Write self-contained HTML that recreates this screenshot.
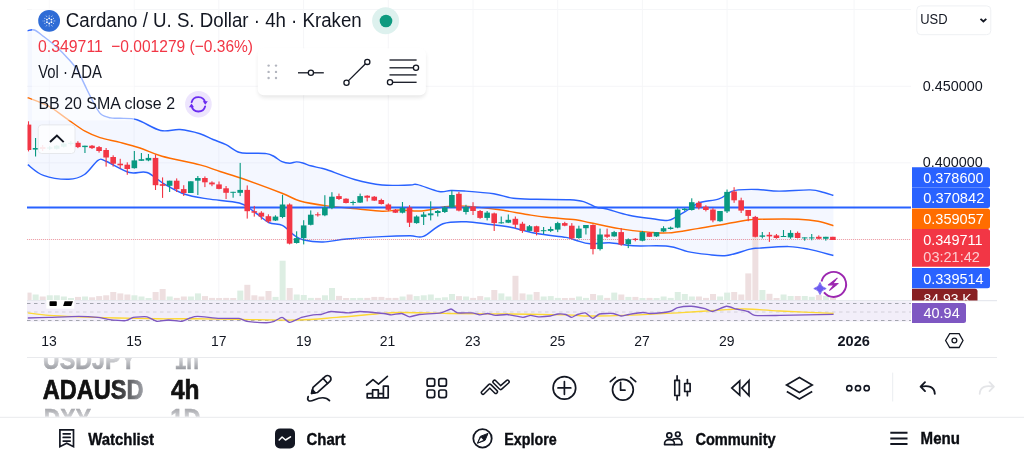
<!DOCTYPE html>
<html><head><meta charset="utf-8"><style>
html,body{margin:0;padding:0;background:#fff;width:1024px;height:461px;overflow:hidden;position:relative}
</style></head><body>
<svg width="1024" height="461" viewBox="0 0 1024 461" style="position:absolute;left:0;top:0;will-change:transform">
<defs><clipPath id="chartclip"><rect x="27.5" y="0" width="883.5" height="300.2"/></clipPath><filter id="blur" x="-10%" y="-30%" width="120%" height="160%"><feGaussianBlur stdDeviation="2"/></filter></defs>
<g stroke="#F5F6F8" stroke-width="1"><line x1="49.3" y1="0" x2="49.3" y2="300" /><line x1="134.1" y1="0" x2="134.1" y2="300" /><line x1="218.8" y1="0" x2="218.8" y2="300" /><line x1="303.6" y1="0" x2="303.6" y2="300" /><line x1="388.3" y1="0" x2="388.3" y2="300" /><line x1="473" y1="0" x2="473" y2="300" /><line x1="557.7" y1="0" x2="557.7" y2="300" /><line x1="642.4" y1="0" x2="642.4" y2="300" /><line x1="727.1" y1="0" x2="727.1" y2="300" /><line x1="854.1" y1="0" x2="854.1" y2="300" /><line x1="27" y1="9.5" x2="911" y2="9.5" /><line x1="27" y1="86.3" x2="911" y2="86.3" /><line x1="27" y1="162.8" x2="911" y2="162.8" /><line x1="27" y1="239.5" x2="911" y2="239.5" /></g>
<path d="M27.6,30.7 C28.72,30.58 31.58,29 34.3,30 C37.02,31 40.32,33.98 43.9,36.7 C47.48,39.42 51.83,42.72 55.8,46.3 C59.77,49.88 64.12,54.23 67.7,58.2 C71.28,62.17 74.12,64.93 77.3,70.1 C80.48,75.27 84.02,83.63 86.8,89.2 C89.58,94.77 91.62,99.32 94,103.5 C96.38,107.68 98.32,111.9 101.1,114.3 C103.88,116.7 107.55,117.23 110.7,117.9 C113.85,118.57 115.62,117.98 120,118.3 C124.38,118.62 130.23,117.77 137,119.8 C143.77,121.83 153.43,128.88 160.6,130.5 C167.77,132.12 173.43,128.97 180,129.5 C186.57,130.03 194.5,132.03 200,133.7 C205.5,135.37 208.67,137.67 213,139.5 C217.33,141.33 221.67,142.57 226,144.7 C230.33,146.83 234.67,150.88 239,152.3 C243.33,153.72 247.43,152.98 252,153.2 C256.57,153.42 262.7,153.05 266.4,153.6 C270.1,154.15 271.6,155.15 274.2,156.5 C276.8,157.85 279.4,160.58 282,161.7 C284.6,162.82 287.4,163.17 289.8,163.2 C292.2,163.23 294.22,161.93 296.4,161.9 C298.58,161.87 300.52,162.35 302.9,163 C305.28,163.65 307.85,164.98 310.7,165.8 C313.55,166.62 317.28,167.23 320,167.9 C322.72,168.57 321.25,167.87 327,169.8 C332.75,171.73 345.33,176.97 354.5,179.5 C363.67,182.03 372.75,184.08 382,185 C391.25,185.92 404.07,185.07 410,185 C415.93,184.93 412.77,183.52 417.6,184.6 C422.43,185.68 433.47,190.52 439,191.5 C444.53,192.48 446.55,190.58 450.8,190.5 C455.05,190.42 457.34,190.45 464.5,191 C471.66,191.55 485.62,192.58 493.75,193.8 C501.88,195.02 506.14,197.38 513.3,198.3 C520.46,199.22 527.25,199.07 536.7,199.3 C546.15,199.53 562.18,199.32 570,199.7 C577.82,200.08 579.1,200.3 583.6,201.6 C588.1,202.9 593.33,206.32 597,207.5 C600.67,208.68 600.27,207.4 605.6,208.7 C610.93,210 621.18,213.62 629,215.3 C636.82,216.98 646,217.95 652.5,218.8 C659,219.65 664.08,220.72 668,220.4 C671.92,220.08 672.72,218.63 676,216.9 C679.28,215.17 683.8,212.35 687.7,210 C691.6,207.65 694.18,204.65 699.4,202.8 C704.62,200.95 713.8,200.72 719,198.9 C724.2,197.08 727.37,193.4 730.6,191.9 C733.83,190.4 733.83,190.3 738.4,189.9 C742.97,189.5 751.23,189.3 758,189.5 C764.77,189.7 770.28,191.03 779,191.1 C787.72,191.17 802.8,189.67 810.3,189.9 C817.8,190.13 820.15,191.58 824,192.5 C827.85,193.42 831.83,194.92 833.4,195.4 L833.4,255.5 C829.23,254.43 815.83,250.58 808.4,249.1 C800.97,247.62 796.95,246.77 788.8,246.6 C780.65,246.43 765.93,247.68 759.5,248.1 C753.07,248.52 755.67,247.87 750.2,249.1 C744.73,250.33 733.87,254.62 726.7,255.5 C719.53,256.38 713.7,255.05 707.2,254.4 C700.7,253.75 694.23,252.97 687.7,251.6 C681.17,250.23 677.12,247.17 668,246.2 C658.88,245.23 642.75,246.38 633,245.8 C623.25,245.22 616.67,243.03 609.5,242.7 C602.33,242.37 595.62,244.2 590,243.8 C584.38,243.4 579.8,241.37 575.8,240.3 C571.8,239.23 572.52,238.53 566,237.4 C559.48,236.27 546.13,235.23 536.7,233.5 C527.27,231.77 517.53,228.53 509.4,227 C501.27,225.47 495.07,225.17 487.9,224.3 C480.73,223.43 473.88,221.9 466.4,221.8 C458.92,221.7 450.17,221.27 443,223.7 C435.83,226.13 428.9,234.38 423.4,236.4 C417.9,238.42 416.9,235.77 410,235.8 C403.1,235.83 392.55,236.07 382,236.6 C371.45,237.13 356.53,238.1 346.7,239 C336.87,239.9 330.16,241.83 323,242 C315.84,242.17 308.58,241.13 303.75,240 C298.92,238.87 297.57,237.63 294,235.2 C290.43,232.77 286.53,227.52 282.3,225.4 C278.07,223.28 273.48,224.93 268.6,222.5 C263.72,220.07 257.88,214.05 253,210.8 C248.12,207.55 246.88,204.98 239.3,203 C231.72,201.02 216.72,200.4 207.5,198.9 C198.28,197.4 191.17,196.45 184,194 C176.83,191.55 170.67,187.78 164.5,184.2 C158.33,180.62 152.85,174.45 147,172.5 C141.15,170.55 136.23,174.38 129.4,172.5 C122.57,170.62 111.23,163.22 106,161.2 C100.77,159.18 101.58,158.18 98,160.4 C94.42,162.62 89.37,171.35 84.5,174.5 C79.63,177.65 75.65,179.15 68.8,179.3 C61.95,179.45 50.23,177.83 43.4,175.4 C36.57,172.97 30.4,166.48 27.8,164.7 Z" fill="#2962FF" fill-opacity="0.05" />
<g clip-path="url(#chartclip)"><rect x="25.6" y="292.6" width="6" height="7.4" fill="#EEDFE0" /><rect x="32.66" y="294.5" width="6" height="5.5" fill="#DDEEE3" /><rect x="39.71" y="296.5" width="6" height="3.5" fill="#EEDFE0" /><rect x="46.77" y="295.3" width="6" height="4.7" fill="#DDEEE3" /><rect x="53.82" y="295.3" width="6" height="4.7" fill="#DDEEE3" /><rect x="60.88" y="296.5" width="6" height="3.5" fill="#DDEEE3" /><rect x="67.94" y="298" width="6" height="2" fill="#DDEEE3" /><rect x="74.99" y="296.9" width="6" height="3.1" fill="#EEDFE0" /><rect x="82.05" y="296.5" width="6" height="3.5" fill="#DDEEE3" /><rect x="89.1" y="297.3" width="6" height="2.7" fill="#EEDFE0" /><rect x="96.16" y="296.1" width="6" height="3.9" fill="#EEDFE0" /><rect x="103.22" y="295.3" width="6" height="4.7" fill="#EEDFE0" /><rect x="110.27" y="292" width="6" height="8" fill="#EEDFE0" /><rect x="117.33" y="293.4" width="6" height="6.6" fill="#EEDFE0" /><rect x="124.38" y="294.5" width="6" height="5.5" fill="#EEDFE0" /><rect x="131.44" y="295.3" width="6" height="4.7" fill="#DDEEE3" /><rect x="138.5" y="296.5" width="6" height="3.5" fill="#DDEEE3" /><rect x="145.55" y="298" width="6" height="2" fill="#DDEEE3" /><rect x="152.61" y="292" width="6" height="8" fill="#EEDFE0" /><rect x="159.66" y="289" width="6" height="11" fill="#EEDFE0" /><rect x="166.72" y="296.5" width="6" height="3.5" fill="#DDEEE3" /><rect x="173.78" y="297.9" width="6" height="2.1" fill="#EEDFE0" /><rect x="180.83" y="296.5" width="6" height="3.5" fill="#EEDFE0" /><rect x="187.89" y="296.5" width="6" height="3.5" fill="#DDEEE3" /><rect x="194.94" y="293.4" width="6" height="6.6" fill="#DDEEE3" /><rect x="202" y="296.1" width="6" height="3.9" fill="#EEDFE0" /><rect x="209.06" y="297.9" width="6" height="2.1" fill="#EEDFE0" /><rect x="216.11" y="298" width="6" height="2" fill="#EEDFE0" /><rect x="223.17" y="297.9" width="6" height="2.1" fill="#EEDFE0" /><rect x="230.22" y="298" width="6" height="2" fill="#EEDFE0" /><rect x="237.28" y="290.6" width="6" height="9.4" fill="#DDEEE3" /><rect x="244.34" y="284.8" width="6" height="15.2" fill="#EEDFE0" /><rect x="251.39" y="295.3" width="6" height="4.7" fill="#EEDFE0" /><rect x="258.45" y="296.5" width="6" height="3.5" fill="#EEDFE0" /><rect x="265.5" y="291" width="6" height="9" fill="#EEDFE0" /><rect x="272.56" y="296.9" width="6" height="3.1" fill="#DDEEE3" /><rect x="279.62" y="260.7" width="6" height="39.3" fill="#DDEEE3" /><rect x="286.67" y="288" width="6" height="12" fill="#EEDFE0" /><rect x="293.73" y="294.5" width="6" height="5.5" fill="#DDEEE3" /><rect x="300.78" y="295" width="6" height="5" fill="#DDEEE3" /><rect x="307.84" y="297.9" width="6" height="2.1" fill="#DDEEE3" /><rect x="314.9" y="297.9" width="6" height="2.1" fill="#EEDFE0" /><rect x="321.95" y="295.3" width="6" height="4.7" fill="#DDEEE3" /><rect x="329.01" y="288" width="6" height="12" fill="#DDEEE3" /><rect x="336.06" y="295.9" width="6" height="4.1" fill="#EEDFE0" /><rect x="343.12" y="298" width="6" height="2" fill="#EEDFE0" /><rect x="350.18" y="298" width="6" height="2" fill="#DDEEE3" /><rect x="357.23" y="297.9" width="6" height="2.1" fill="#DDEEE3" /><rect x="364.29" y="297.9" width="6" height="2.1" fill="#EEDFE0" /><rect x="371.34" y="296.9" width="6" height="3.1" fill="#EEDFE0" /><rect x="378.4" y="296.9" width="6" height="3.1" fill="#EEDFE0" /><rect x="385.46" y="297.9" width="6" height="2.1" fill="#EEDFE0" /><rect x="392.51" y="297.9" width="6" height="2.1" fill="#EEDFE0" /><rect x="399.57" y="296.5" width="6" height="3.5" fill="#DDEEE3" /><rect x="406.62" y="294.5" width="6" height="5.5" fill="#EEDFE0" /><rect x="413.68" y="296.1" width="6" height="3.9" fill="#DDEEE3" /><rect x="420.74" y="295.3" width="6" height="4.7" fill="#DDEEE3" /><rect x="427.79" y="294.5" width="6" height="5.5" fill="#DDEEE3" /><rect x="434.85" y="297.9" width="6" height="2.1" fill="#DDEEE3" /><rect x="441.9" y="297.3" width="6" height="2.7" fill="#DDEEE3" /><rect x="448.96" y="294" width="6" height="6" fill="#DDEEE3" /><rect x="456.02" y="296.1" width="6" height="3.9" fill="#EEDFE0" /><rect x="463.07" y="296.5" width="6" height="3.5" fill="#DDEEE3" /><rect x="470.13" y="297.9" width="6" height="2.1" fill="#EEDFE0" /><rect x="477.18" y="296.1" width="6" height="3.9" fill="#EEDFE0" /><rect x="484.24" y="297.3" width="6" height="2.7" fill="#DDEEE3" /><rect x="491.3" y="290" width="6" height="10" fill="#EEDFE0" /><rect x="498.35" y="293.4" width="6" height="6.6" fill="#DDEEE3" /><rect x="505.41" y="296.5" width="6" height="3.5" fill="#DDEEE3" /><rect x="512.46" y="275.8" width="6" height="24.2" fill="#EEDFE0" /><rect x="519.52" y="293.4" width="6" height="6.6" fill="#EEDFE0" /><rect x="526.58" y="294.5" width="6" height="5.5" fill="#DDEEE3" /><rect x="533.63" y="292" width="6" height="8" fill="#EEDFE0" /><rect x="540.69" y="296.5" width="6" height="3.5" fill="#DDEEE3" /><rect x="547.74" y="296.1" width="6" height="3.9" fill="#DDEEE3" /><rect x="554.8" y="297.9" width="6" height="2.1" fill="#DDEEE3" /><rect x="561.86" y="298" width="6" height="2" fill="#EEDFE0" /><rect x="568.91" y="297.9" width="6" height="2.1" fill="#EEDFE0" /><rect x="575.97" y="296.5" width="6" height="3.5" fill="#DDEEE3" /><rect x="583.02" y="297.9" width="6" height="2.1" fill="#DDEEE3" /><rect x="590.08" y="294" width="6" height="6" fill="#EEDFE0" /><rect x="597.14" y="295.3" width="6" height="4.7" fill="#DDEEE3" /><rect x="604.19" y="297.9" width="6" height="2.1" fill="#EEDFE0" /><rect x="611.25" y="292.6" width="6" height="7.4" fill="#DDEEE3" /><rect x="618.3" y="294.5" width="6" height="5.5" fill="#EEDFE0" /><rect x="625.36" y="296.9" width="6" height="3.1" fill="#DDEEE3" /><rect x="632.42" y="296.9" width="6" height="3.1" fill="#EEDFE0" /><rect x="639.47" y="298" width="6" height="2" fill="#DDEEE3" /><rect x="646.53" y="297.9" width="6" height="2.1" fill="#EEDFE0" /><rect x="653.58" y="298" width="6" height="2" fill="#DDEEE3" /><rect x="660.64" y="296.5" width="6" height="3.5" fill="#DDEEE3" /><rect x="667.7" y="297.9" width="6" height="2.1" fill="#DDEEE3" /><rect x="674.75" y="292" width="6" height="8" fill="#DDEEE3" /><rect x="681.81" y="294" width="6" height="6" fill="#DDEEE3" /><rect x="688.86" y="296.5" width="6" height="3.5" fill="#DDEEE3" /><rect x="695.92" y="296.5" width="6" height="3.5" fill="#EEDFE0" /><rect x="702.98" y="297.9" width="6" height="2.1" fill="#EEDFE0" /><rect x="710.03" y="294" width="6" height="6" fill="#EEDFE0" /><rect x="717.09" y="296.5" width="6" height="3.5" fill="#DDEEE3" /><rect x="724.14" y="292.6" width="6" height="7.4" fill="#DDEEE3" /><rect x="731.2" y="292" width="6" height="8" fill="#EEDFE0" /><rect x="738.26" y="294.5" width="6" height="5.5" fill="#EEDFE0" /><rect x="745.31" y="273.4" width="6" height="26.6" fill="#EEDFE0" /><rect x="752.37" y="236.8" width="6" height="63.2" fill="#EEDFE0" /><rect x="759.42" y="290" width="6" height="10" fill="#DDEEE3" /><rect x="766.48" y="293.8" width="6" height="6.2" fill="#EEDFE0" /><rect x="773.54" y="298" width="6" height="2" fill="#EEDFE0" /><rect x="780.59" y="294.5" width="6" height="5.5" fill="#DDEEE3" /><rect x="787.65" y="296" width="6" height="4" fill="#DDEEE3" /><rect x="794.7" y="296" width="6" height="4" fill="#EEDFE0" /><rect x="801.76" y="296" width="6" height="4" fill="#DDEEE3" /><rect x="808.82" y="296.8" width="6" height="3.2" fill="#DDEEE3" /><rect x="815.87" y="295" width="6" height="5" fill="#EEDFE0" /><rect x="822.93" y="296" width="6" height="4" fill="#DDEEE3" /><rect x="829.98" y="298" width="6" height="2" fill="#EEDFE0" /></g>
<path d="M27.6,30.7 C28.72,30.58 31.58,29 34.3,30 C37.02,31 40.32,33.98 43.9,36.7 C47.48,39.42 51.83,42.72 55.8,46.3 C59.77,49.88 64.12,54.23 67.7,58.2 C71.28,62.17 74.12,64.93 77.3,70.1 C80.48,75.27 84.02,83.63 86.8,89.2 C89.58,94.77 91.62,99.32 94,103.5 C96.38,107.68 98.32,111.9 101.1,114.3 C103.88,116.7 107.55,117.23 110.7,117.9 C113.85,118.57 115.62,117.98 120,118.3 C124.38,118.62 130.23,117.77 137,119.8 C143.77,121.83 153.43,128.88 160.6,130.5 C167.77,132.12 173.43,128.97 180,129.5 C186.57,130.03 194.5,132.03 200,133.7 C205.5,135.37 208.67,137.67 213,139.5 C217.33,141.33 221.67,142.57 226,144.7 C230.33,146.83 234.67,150.88 239,152.3 C243.33,153.72 247.43,152.98 252,153.2 C256.57,153.42 262.7,153.05 266.4,153.6 C270.1,154.15 271.6,155.15 274.2,156.5 C276.8,157.85 279.4,160.58 282,161.7 C284.6,162.82 287.4,163.17 289.8,163.2 C292.2,163.23 294.22,161.93 296.4,161.9 C298.58,161.87 300.52,162.35 302.9,163 C305.28,163.65 307.85,164.98 310.7,165.8 C313.55,166.62 317.28,167.23 320,167.9 C322.72,168.57 321.25,167.87 327,169.8 C332.75,171.73 345.33,176.97 354.5,179.5 C363.67,182.03 372.75,184.08 382,185 C391.25,185.92 404.07,185.07 410,185 C415.93,184.93 412.77,183.52 417.6,184.6 C422.43,185.68 433.47,190.52 439,191.5 C444.53,192.48 446.55,190.58 450.8,190.5 C455.05,190.42 457.34,190.45 464.5,191 C471.66,191.55 485.62,192.58 493.75,193.8 C501.88,195.02 506.14,197.38 513.3,198.3 C520.46,199.22 527.25,199.07 536.7,199.3 C546.15,199.53 562.18,199.32 570,199.7 C577.82,200.08 579.1,200.3 583.6,201.6 C588.1,202.9 593.33,206.32 597,207.5 C600.67,208.68 600.27,207.4 605.6,208.7 C610.93,210 621.18,213.62 629,215.3 C636.82,216.98 646,217.95 652.5,218.8 C659,219.65 664.08,220.72 668,220.4 C671.92,220.08 672.72,218.63 676,216.9 C679.28,215.17 683.8,212.35 687.7,210 C691.6,207.65 694.18,204.65 699.4,202.8 C704.62,200.95 713.8,200.72 719,198.9 C724.2,197.08 727.37,193.4 730.6,191.9 C733.83,190.4 733.83,190.3 738.4,189.9 C742.97,189.5 751.23,189.3 758,189.5 C764.77,189.7 770.28,191.03 779,191.1 C787.72,191.17 802.8,189.67 810.3,189.9 C817.8,190.13 820.15,191.58 824,192.5 C827.85,193.42 831.83,194.92 833.4,195.4" fill="none" stroke="#2962FF" stroke-width="1.45" stroke-linejoin="round"/><path d="M27.8,164.7 C30.4,166.48 36.57,172.97 43.4,175.4 C50.23,177.83 61.95,179.45 68.8,179.3 C75.65,179.15 79.63,177.65 84.5,174.5 C89.37,171.35 94.42,162.62 98,160.4 C101.58,158.18 100.77,159.18 106,161.2 C111.23,163.22 122.57,170.62 129.4,172.5 C136.23,174.38 141.15,170.55 147,172.5 C152.85,174.45 158.33,180.62 164.5,184.2 C170.67,187.78 176.83,191.55 184,194 C191.17,196.45 198.28,197.4 207.5,198.9 C216.72,200.4 231.72,201.02 239.3,203 C246.88,204.98 248.12,207.55 253,210.8 C257.88,214.05 263.72,220.07 268.6,222.5 C273.48,224.93 278.07,223.28 282.3,225.4 C286.53,227.52 290.43,232.77 294,235.2 C297.57,237.63 298.92,238.87 303.75,240 C308.58,241.13 315.84,242.17 323,242 C330.16,241.83 336.87,239.9 346.7,239 C356.53,238.1 371.45,237.13 382,236.6 C392.55,236.07 403.1,235.83 410,235.8 C416.9,235.77 417.9,238.42 423.4,236.4 C428.9,234.38 435.83,226.13 443,223.7 C450.17,221.27 458.92,221.7 466.4,221.8 C473.88,221.9 480.73,223.43 487.9,224.3 C495.07,225.17 501.27,225.47 509.4,227 C517.53,228.53 527.27,231.77 536.7,233.5 C546.13,235.23 559.48,236.27 566,237.4 C572.52,238.53 571.8,239.23 575.8,240.3 C579.8,241.37 584.38,243.4 590,243.8 C595.62,244.2 602.33,242.37 609.5,242.7 C616.67,243.03 623.25,245.22 633,245.8 C642.75,246.38 658.88,245.23 668,246.2 C677.12,247.17 681.17,250.23 687.7,251.6 C694.23,252.97 700.7,253.75 707.2,254.4 C713.7,255.05 719.53,256.38 726.7,255.5 C733.87,254.62 744.73,250.33 750.2,249.1 C755.67,247.87 753.07,248.52 759.5,248.1 C765.93,247.68 780.65,246.43 788.8,246.6 C796.95,246.77 800.97,247.62 808.4,249.1 C815.83,250.58 829.23,254.43 833.4,255.5" fill="none" stroke="#2962FF" stroke-width="1.45" stroke-linejoin="round"/><path d="M27.6,97.6 C31.1,99.03 41.92,102.57 48.6,106.2 C55.28,109.83 61.63,115.23 67.7,119.4 C73.77,123.57 79.62,128.17 85,131.2 C90.38,134.23 94.17,135.73 100,137.6 C105.83,139.47 113.33,140.67 120,142.4 C126.67,144.13 133,145.7 140,148 C147,150.3 152,153.38 162,156.2 C172,159.02 190.33,162.35 200,164.9 C209.67,167.45 212.5,169.07 220,171.5 C227.5,173.93 234.67,175.88 245,179.5 C255.33,183.12 272.83,189.62 282,193.2 C291.17,196.78 292.5,198.88 300,201 C307.5,203.12 317.58,204.6 327,205.9 C336.42,207.2 347.33,207.92 356.5,208.8 C365.67,209.68 374.75,211 382,211.2 C389.25,211.4 393.42,210.03 400,210 C406.58,209.97 414,211.55 421.5,211 C429,210.45 437.83,207.52 445,206.7 C452.17,205.88 455.72,205.63 464.5,206.1 C473.28,206.57 487.28,208.1 497.7,209.5 C508.12,210.9 518.87,213.2 527,214.5 C535.13,215.8 538.37,216.42 546.5,217.3 C554.63,218.18 568.55,218.9 575.8,219.8 C583.05,220.7 582.75,221.23 590,222.7 C597.25,224.17 609.53,227.03 619.3,228.6 C629.07,230.17 640.47,231.38 648.6,232.1 C656.73,232.82 659.97,233.48 668.1,232.9 C676.23,232.32 687.63,230.13 697.4,228.6 C707.17,227.07 717.9,225.17 726.7,223.7 C735.5,222.23 744.73,220.55 750.2,219.8 C755.67,219.05 751.43,219.3 759.5,219.2 C767.57,219.1 788.85,218.87 798.6,219.2 C808.35,219.53 812.2,220.12 818,221.2 C823.8,222.28 830.83,224.95 833.4,225.7" fill="none" stroke="#FF6D00" stroke-width="1.45" stroke-linejoin="round"/>
<line x1="27" y1="239.5" x2="911" y2="239.5" stroke="#F23645" stroke-width="1" stroke-dasharray="1,1" opacity="0.45"/>
<line x1="27" y1="207.5" x2="911" y2="207.5" stroke="#2962FF" stroke-width="2"/>
<g clip-path="url(#chartclip)"><g fill="#F23645"><rect x="27.95" y="121.3" width="1.1" height="30.1"/><rect x="25.7" y="124.6" width="5.6" height="25.4"/></g><g fill="#089981"><rect x="35.01" y="138" width="1.1" height="18.5"/><rect x="32.76" y="148" width="5.6" height="1.6"/></g><g fill="#F23645" opacity="0.4"><rect x="42.06" y="145" width="1.1" height="6"/><rect x="39.81" y="147" width="5.6" height="2"/></g><g fill="#089981" opacity="0.4"><rect x="49.12" y="146" width="1.1" height="4"/><rect x="46.87" y="147.5" width="5.6" height="1"/></g><g fill="#089981" opacity="0.4"><rect x="56.17" y="145" width="1.1" height="4.5"/><rect x="53.92" y="145.7" width="5.6" height="3"/></g><g fill="#089981" opacity="0.4"><rect x="63.23" y="143" width="1.1" height="4.5"/><rect x="60.98" y="143.6" width="5.6" height="3.1"/></g><g fill="#089981" opacity="0.4"><rect x="70.29" y="140.9" width="1.1" height="4.6"/><rect x="68.04" y="142.8" width="5.6" height="1"/></g><g fill="#F23645"><rect x="77.34" y="141.2" width="1.1" height="6.9"/><rect x="75.09" y="142.8" width="5.6" height="4.3"/></g><g fill="#089981"><rect x="84.4" y="145.7" width="1.1" height="7.3"/><rect x="82.15" y="145.7" width="5.6" height="1.4"/></g><g fill="#F23645"><rect x="91.45" y="145" width="1.1" height="4"/><rect x="89.2" y="145.7" width="5.6" height="2.4"/></g><g fill="#F23645"><rect x="98.51" y="146" width="1.1" height="6.6"/><rect x="96.26" y="147.1" width="5.6" height="3.9"/></g><g fill="#F23645"><rect x="105.57" y="148" width="1.1" height="18.6"/><rect x="103.32" y="150" width="5.6" height="7.5"/></g><g fill="#F23645"><rect x="112.62" y="155.3" width="1.1" height="11.3"/><rect x="110.37" y="157" width="5.6" height="6.7"/></g><g fill="#F23645"><rect x="119.68" y="158.8" width="1.1" height="9.8"/><rect x="117.43" y="163.7" width="5.6" height="1.6"/></g><g fill="#F23645"><rect x="126.73" y="162.3" width="1.1" height="12.5"/><rect x="124.48" y="164.7" width="5.6" height="4.3"/></g><g fill="#089981"><rect x="133.79" y="151" width="1.1" height="17.6"/><rect x="131.54" y="160.4" width="5.6" height="7.8"/></g><g fill="#089981"><rect x="140.85" y="153" width="1.1" height="7.8"/><rect x="138.6" y="159.2" width="5.6" height="1.6"/></g><g fill="#089981"><rect x="147.9" y="154" width="1.1" height="7.2"/><rect x="145.65" y="157.9" width="5.6" height="2.5"/></g><g fill="#F23645"><rect x="154.96" y="154.5" width="1.1" height="35.5"/><rect x="152.71" y="157.9" width="5.6" height="27.3"/></g><g fill="#F23645"><rect x="162.01" y="177.4" width="1.1" height="20.5"/><rect x="159.76" y="184.2" width="5.6" height="1.6"/></g><g fill="#089981"><rect x="169.07" y="180.7" width="1.1" height="11.3"/><rect x="166.82" y="180.7" width="5.6" height="5.1"/></g><g fill="#F23645"><rect x="176.13" y="178.4" width="1.1" height="13.6"/><rect x="173.88" y="180.7" width="5.6" height="8.4"/></g><g fill="#F23645"><rect x="183.18" y="185.2" width="1.1" height="10.8"/><rect x="180.93" y="189.1" width="5.6" height="3.9"/></g><g fill="#089981"><rect x="190.24" y="181.3" width="1.1" height="11.7"/><rect x="187.99" y="181.3" width="5.6" height="11.7"/></g><g fill="#089981"><rect x="197.29" y="176" width="1.1" height="19"/><rect x="195.04" y="178" width="5.6" height="2.7"/></g><g fill="#F23645"><rect x="204.35" y="176.4" width="1.1" height="10.7"/><rect x="202.1" y="178" width="5.6" height="4.3"/></g><g fill="#F23645"><rect x="211.41" y="181.3" width="1.1" height="4.9"/><rect x="209.16" y="182.5" width="5.6" height="1.9"/></g><g fill="#F23645"><rect x="218.46" y="181.5" width="1.1" height="7.8"/><rect x="216.21" y="184.4" width="5.6" height="4.5"/></g><g fill="#F23645"><rect x="225.52" y="186" width="1.1" height="13"/><rect x="223.27" y="188.3" width="5.6" height="4.5"/></g><g fill="#089981"><rect x="232.57" y="191.8" width="1.1" height="5.9"/><rect x="230.32" y="191.8" width="5.6" height="1"/></g><g fill="#089981"><rect x="239.63" y="162.9" width="1.1" height="33.2"/><rect x="237.38" y="189.9" width="5.6" height="2.9"/></g><g fill="#F23645"><rect x="246.69" y="185.4" width="1.1" height="33.2"/><rect x="244.44" y="189.9" width="5.6" height="21.3"/></g><g fill="#F23645"><rect x="253.74" y="205.9" width="1.1" height="10.7"/><rect x="251.49" y="211.2" width="5.6" height="1.5"/></g><g fill="#F23645"><rect x="260.8" y="211.2" width="1.1" height="8.4"/><rect x="258.55" y="212.7" width="5.6" height="3.9"/></g><g fill="#F23645"><rect x="267.85" y="214.3" width="1.1" height="8.6"/><rect x="265.6" y="216.2" width="5.6" height="5.3"/></g><g fill="#089981"><rect x="274.91" y="215.3" width="1.1" height="5.7"/><rect x="272.66" y="216.6" width="5.6" height="3.9"/></g><g fill="#089981"><rect x="281.97" y="194.8" width="1.1" height="23.4"/><rect x="279.72" y="204.5" width="5.6" height="12.5"/></g><g fill="#F23645"><rect x="289.02" y="203.4" width="1.1" height="41"/><rect x="286.77" y="204.5" width="5.6" height="39.1"/></g><g fill="#089981"><rect x="296.08" y="231.3" width="1.1" height="12.3"/><rect x="293.83" y="238.1" width="5.6" height="4.9"/></g><g fill="#089981"><rect x="303.13" y="220.2" width="1.1" height="24.2"/><rect x="300.88" y="225.4" width="5.6" height="12.7"/></g><g fill="#089981"><rect x="310.19" y="210.4" width="1.1" height="15"/><rect x="307.94" y="214.7" width="5.6" height="10.1"/></g><g fill="#F23645"><rect x="317.25" y="212.3" width="1.1" height="4.3"/><rect x="315" y="214.3" width="5.6" height="1"/></g><g fill="#089981"><rect x="324.3" y="195.2" width="1.1" height="21"/><rect x="322.05" y="207.5" width="5.6" height="7.8"/></g><g fill="#089981"><rect x="331.36" y="192.2" width="1.1" height="17"/><rect x="329.11" y="196.7" width="5.6" height="11.2"/></g><g fill="#F23645"><rect x="338.41" y="193.6" width="1.1" height="6.4"/><rect x="336.16" y="196.1" width="5.6" height="2.9"/></g><g fill="#F23645"><rect x="345.47" y="198.3" width="1.1" height="5.1"/><rect x="343.22" y="198.7" width="5.6" height="4.3"/></g><g fill="#089981"><rect x="352.53" y="200.6" width="1.1" height="4.7"/><rect x="350.28" y="202" width="5.6" height="1"/></g><g fill="#089981"><rect x="359.58" y="193.6" width="1.1" height="9.4"/><rect x="357.33" y="196.1" width="5.6" height="6.5"/></g><g fill="#F23645"><rect x="366.64" y="195.2" width="1.1" height="6.2"/><rect x="364.39" y="195.7" width="5.6" height="2"/></g><g fill="#F23645"><rect x="373.69" y="196" width="1.1" height="5"/><rect x="371.44" y="196.7" width="5.6" height="3.9"/></g><g fill="#F23645"><rect x="380.75" y="198.7" width="1.1" height="5.8"/><rect x="378.5" y="200" width="5.6" height="4"/></g><g fill="#F23645"><rect x="387.81" y="203.4" width="1.1" height="7.8"/><rect x="385.56" y="204.5" width="5.6" height="5.3"/></g><g fill="#F23645"><rect x="394.86" y="209" width="1.1" height="4"/><rect x="392.61" y="209.8" width="5.6" height="2.9"/></g><g fill="#089981"><rect x="401.92" y="202" width="1.1" height="11.4"/><rect x="399.67" y="207.9" width="5.6" height="4.8"/></g><g fill="#F23645"><rect x="408.97" y="205.2" width="1.1" height="21.8"/><rect x="406.72" y="207.5" width="5.6" height="15.2"/></g><g fill="#089981"><rect x="416.03" y="215.3" width="1.1" height="8.4"/><rect x="413.78" y="216.5" width="5.6" height="6.6"/></g><g fill="#089981"><rect x="423.09" y="212" width="1.1" height="13"/><rect x="420.84" y="214.5" width="5.6" height="2.4"/></g><g fill="#089981"><rect x="430.14" y="201.3" width="1.1" height="19.1"/><rect x="427.89" y="213.4" width="5.6" height="1.9"/></g><g fill="#089981"><rect x="437.2" y="210" width="1.1" height="6.5"/><rect x="434.95" y="211" width="5.6" height="2"/></g><g fill="#089981"><rect x="444.25" y="206.1" width="1.1" height="6.9"/><rect x="442" y="207.5" width="5.6" height="4.5"/></g><g fill="#089981"><rect x="451.31" y="190.5" width="1.1" height="17.5"/><rect x="449.06" y="195" width="5.6" height="12.5"/></g><g fill="#F23645"><rect x="458.37" y="191.9" width="1.1" height="19.5"/><rect x="456.12" y="193.8" width="5.6" height="16.8"/></g><g fill="#089981"><rect x="465.42" y="204.8" width="1.1" height="9.7"/><rect x="463.17" y="207.1" width="5.6" height="4.9"/></g><g fill="#F23645"><rect x="472.48" y="202.2" width="1.1" height="12.8"/><rect x="470.23" y="206.7" width="5.6" height="4.3"/></g><g fill="#F23645"><rect x="479.53" y="210" width="1.1" height="8.8"/><rect x="477.28" y="211" width="5.6" height="6.9"/></g><g fill="#089981"><rect x="486.59" y="211" width="1.1" height="9.4"/><rect x="484.34" y="212.6" width="5.6" height="5.3"/></g><g fill="#F23645"><rect x="493.65" y="212.6" width="1.1" height="18.4"/><rect x="491.4" y="213.4" width="5.6" height="9.7"/></g><g fill="#089981"><rect x="500.7" y="216.5" width="1.1" height="7.2"/><rect x="498.45" y="222.3" width="5.6" height="1"/></g><g fill="#089981"><rect x="507.76" y="214.5" width="1.1" height="8.6"/><rect x="505.51" y="219.8" width="5.6" height="2.9"/></g><g fill="#F23645"><rect x="514.81" y="216.5" width="1.1" height="11.7"/><rect x="512.56" y="218.8" width="5.6" height="5.9"/></g><g fill="#F23645"><rect x="521.87" y="221.8" width="1.1" height="11.1"/><rect x="519.62" y="223.7" width="5.6" height="7.2"/></g><g fill="#089981"><rect x="528.93" y="225" width="1.1" height="6.5"/><rect x="526.68" y="226.25" width="5.6" height="4.65"/></g><g fill="#F23645"><rect x="535.98" y="225.7" width="1.1" height="9.7"/><rect x="533.73" y="226.25" width="5.6" height="5.85"/></g><g fill="#089981"><rect x="543.04" y="227" width="1.1" height="7"/><rect x="540.79" y="230.2" width="5.6" height="1"/></g><g fill="#089981"><rect x="550.09" y="226.6" width="1.1" height="5.5"/><rect x="547.84" y="229" width="5.6" height="1.9"/></g><g fill="#089981"><rect x="557.15" y="221.8" width="1.1" height="10.3"/><rect x="554.9" y="223.1" width="5.6" height="6.5"/></g><g fill="#F23645"><rect x="564.21" y="221.8" width="1.1" height="4.45"/><rect x="561.96" y="223.1" width="5.6" height="2.6"/></g><g fill="#F23645"><rect x="571.26" y="223.1" width="1.1" height="16.2"/><rect x="569.01" y="225.7" width="5.6" height="12.7"/></g><g fill="#089981"><rect x="578.32" y="225.7" width="1.1" height="13.05"/><rect x="576.07" y="228.6" width="5.6" height="9.4"/></g><g fill="#089981"><rect x="585.37" y="225" width="1.1" height="9.5"/><rect x="583.12" y="225" width="5.6" height="3.2"/></g><g fill="#F23645"><rect x="592.43" y="224.3" width="1.1" height="30.1"/><rect x="590.18" y="225" width="5.6" height="24.1"/></g><g fill="#089981"><rect x="599.49" y="228.6" width="1.1" height="21.9"/><rect x="597.24" y="234.5" width="5.6" height="14.6"/></g><g fill="#F23645"><rect x="606.54" y="228.6" width="1.1" height="9.4"/><rect x="604.29" y="234.5" width="5.6" height="2.3"/></g><g fill="#089981"><rect x="613.6" y="230.9" width="1.1" height="5.9"/><rect x="611.35" y="232.1" width="5.6" height="4.3"/></g><g fill="#F23645"><rect x="620.65" y="228.2" width="1.1" height="17.6"/><rect x="618.4" y="232.1" width="5.6" height="12.5"/></g><g fill="#089981"><rect x="627.71" y="238.4" width="1.1" height="9.7"/><rect x="625.46" y="239.3" width="5.6" height="4.9"/></g><g fill="#F23645"><rect x="634.77" y="238" width="1.1" height="3.3"/><rect x="632.52" y="238.75" width="5.6" height="1.25"/></g><g fill="#089981"><rect x="641.82" y="230.9" width="1.1" height="10.4"/><rect x="639.57" y="232.1" width="5.6" height="8.6"/></g><g fill="#F23645"><rect x="648.88" y="232" width="1.1" height="5"/><rect x="646.63" y="232.5" width="5.6" height="4.3"/></g><g fill="#089981"><rect x="655.93" y="232" width="1.1" height="5"/><rect x="653.68" y="232.1" width="5.6" height="4.3"/></g><g fill="#089981"><rect x="662.99" y="226.25" width="1.1" height="5.85"/><rect x="660.74" y="228.2" width="5.6" height="3.3"/></g><g fill="#089981"><rect x="670.05" y="226.6" width="1.1" height="3"/><rect x="667.8" y="227.6" width="5.6" height="1.4"/></g><g fill="#089981"><rect x="677.1" y="208.1" width="1.1" height="20.1"/><rect x="674.85" y="209.5" width="5.6" height="18.1"/></g><g fill="#089981"><rect x="684.16" y="208.1" width="1.1" height="2.9"/><rect x="681.91" y="208.7" width="5.6" height="1.3"/></g><g fill="#089981"><rect x="691.21" y="198.3" width="1.1" height="12.3"/><rect x="688.96" y="202.2" width="5.6" height="7.8"/></g><g fill="#F23645"><rect x="698.27" y="200.9" width="1.1" height="8.6"/><rect x="696.02" y="202.8" width="5.6" height="4.7"/></g><g fill="#F23645"><rect x="705.33" y="205.2" width="1.1" height="6.2"/><rect x="703.08" y="206.7" width="5.6" height="3.3"/></g><g fill="#F23645"><rect x="712.38" y="208.1" width="1.1" height="14.2"/><rect x="710.13" y="209.5" width="5.6" height="10.9"/></g><g fill="#089981"><rect x="719.44" y="211" width="1.1" height="10.8"/><rect x="717.19" y="211" width="5.6" height="10.2"/></g><g fill="#089981"><rect x="726.49" y="189.5" width="1.1" height="23.5"/><rect x="724.24" y="191.9" width="5.6" height="19.5"/></g><g fill="#F23645"><rect x="733.55" y="187.2" width="1.1" height="15.6"/><rect x="731.3" y="191.5" width="5.6" height="8.8"/></g><g fill="#F23645"><rect x="740.61" y="197.7" width="1.1" height="15.3"/><rect x="738.36" y="200.3" width="5.6" height="10.3"/></g><g fill="#F23645"><rect x="747.66" y="210" width="1.1" height="11.2"/><rect x="745.41" y="210" width="5.6" height="5.9"/></g><g fill="#F23645"><rect x="754.72" y="215.9" width="1.1" height="21.5"/><rect x="752.47" y="216.9" width="5.6" height="19.9"/></g><g fill="#089981"><rect x="761.77" y="232" width="1.1" height="6.4"/><rect x="759.52" y="235.4" width="5.6" height="1.4"/></g><g fill="#F23645"><rect x="768.83" y="232.1" width="1.1" height="9.8"/><rect x="766.58" y="234.8" width="5.6" height="1.6"/></g><g fill="#F23645"><rect x="775.89" y="234" width="1.1" height="4.75"/><rect x="773.64" y="235.4" width="5.6" height="2.6"/></g><g fill="#089981"><rect x="782.94" y="230" width="1.1" height="6.8"/><rect x="780.69" y="236" width="5.6" height="1"/></g><g fill="#089981"><rect x="790" y="230.2" width="1.1" height="8.55"/><rect x="787.75" y="232.9" width="5.6" height="4.5"/></g><g fill="#F23645"><rect x="797.05" y="231.5" width="1.1" height="6.9"/><rect x="794.8" y="232.9" width="5.6" height="5.1"/></g><g fill="#089981"><rect x="804.11" y="237.4" width="1.1" height="3.3"/><rect x="801.86" y="237.4" width="5.6" height="1"/></g><g fill="#089981"><rect x="811.17" y="234" width="1.1" height="6.3"/><rect x="808.92" y="237.4" width="5.6" height="1"/></g><g fill="#F23645"><rect x="818.22" y="235.4" width="1.1" height="3.9"/><rect x="815.97" y="236.8" width="5.6" height="1.95"/></g><g fill="#089981"><rect x="825.28" y="236.8" width="1.1" height="3.9"/><rect x="823.03" y="236.8" width="5.6" height="1.95"/></g><g fill="#F23645"><rect x="832.33" y="236.8" width="1.1" height="3.2"/><rect x="830.08" y="236.8" width="5.6" height="3.2"/></g></g>
<line x1="27" y1="300.7" x2="997" y2="300.7" stroke="#E0E3EB" stroke-width="1"/>
<rect x="27" y="301.5" width="884" height="20" fill="#7E57C2" fill-opacity="0.1"/><g stroke="#8A8D96" stroke-width="1" stroke-dasharray="3.5,3.5"><line x1="27" y1="303.5" x2="911" y2="303.5" opacity="0.75"/><line x1="27" y1="312" x2="911" y2="312" opacity="0.3"/><line x1="27" y1="320.5" x2="911" y2="320.5" opacity="0.75"/></g><path d="M27.8,312.9 C31.38,313.32 40.83,314.75 49.3,315.4 C57.77,316.05 67.2,316.37 78.6,316.8 C90,317.23 104.68,317.68 117.7,318 C130.72,318.32 143.68,318.62 156.7,318.75 C169.72,318.88 182.08,318.66 195.8,318.75 C209.52,318.84 222.02,319.09 239,319.3 C255.98,319.51 281.42,320.32 297.7,320 C313.98,319.68 323.68,318.4 336.7,317.4 C349.72,316.4 365.25,314.82 375.8,314 C386.35,313.18 387.87,312.58 400,312.5 C412.13,312.42 430.73,313.25 448.6,313.5 C466.47,313.75 487.67,313.78 507.2,314 C526.73,314.22 552,314.47 565.8,314.8 C579.6,315.13 577.87,316 590,316 C602.13,316 623.98,315.32 638.6,314.8 C653.22,314.28 663.05,313.77 677.7,312.9 C692.35,312.03 715.12,310.25 726.5,309.6 C737.88,308.95 737.08,308.77 746,309 C754.92,309.23 765.4,310.27 780,311 C794.6,311.73 824.67,313 833.6,313.4" fill="none" stroke="#FDD835" stroke-width="1.3"/><path d="M27.8,318 C29.95,317.94 44.22,317.56 49.3,317.4 C54.38,317.24 73.73,316.4 78.6,316.4 C83.47,316.4 95.07,317.11 98,317.4 C100.93,317.69 105.15,318.97 107.9,319.3 C110.65,319.63 122.96,320.89 125.5,320.7 C128.04,320.51 131.15,317.79 133.3,317.4 C135.45,317.01 144.66,316.41 147,316.8 C149.34,317.19 154.56,320.98 156.7,321.3 C158.84,321.62 165.87,320 168.4,320 C170.93,320 179.84,321.5 182,321.3 C184.16,321.1 188.43,318.49 190,318 C191.57,317.51 194.75,316.36 197.7,316.4 C200.65,316.44 215.37,318.2 219.5,318.4 C223.63,318.6 236.26,318.11 239,318.4 C241.74,318.69 244.16,320.87 246.9,321.3 C249.64,321.73 263.67,322.7 266.4,322.7 C269.13,322.7 272.64,321.83 274.2,321.3 C275.76,320.77 280.44,317.3 282,317.4 C283.56,317.5 287.84,322.3 289.8,322.3 C291.76,322.3 299.25,318.15 301.6,317.4 C303.95,316.65 311.36,315.09 313.3,314.8 C315.24,314.51 319.24,314.83 321,314.5 C322.76,314.17 328.16,311.66 330.9,311.5 C333.64,311.34 345.49,312.9 348.4,312.9 C351.31,312.9 356.48,311.44 360,311.5 C363.52,311.56 380.46,313.17 383.6,313.5 C386.74,313.83 389.59,314.8 391.4,314.8 C393.21,314.8 399.89,313.3 401.7,313.5 C403.51,313.7 407.74,316.7 409.5,316.8 C411.26,316.9 416.17,314.89 419.3,314.5 C422.43,314.11 437.63,313.45 440.8,312.9 C443.97,312.35 449.34,309 451,309 C452.66,309 455.3,312.51 457.4,312.9 C459.5,313.29 469.76,312.71 472,312.9 C474.24,313.09 478.23,314.74 479.8,314.8 C481.37,314.86 486.13,313.44 487.7,313.5 C489.27,313.56 493.55,315.3 495.5,315.4 C497.45,315.5 504.47,314.3 507.2,314.5 C509.93,314.7 520.46,317.31 522.8,317.4 C525.14,317.49 529.04,315.46 530.6,315.4 C532.16,315.34 536.44,316.74 538.4,316.8 C540.36,316.86 548.24,316.28 550.2,316 C552.16,315.72 556.44,314.15 558,314 C559.56,313.85 564.44,314.16 565.8,314.5 C567.16,314.84 570.43,317.4 571.6,317.4 C572.77,317.4 576.13,314.95 577.5,314.5 C578.87,314.05 583.78,312.51 585.3,312.9 C586.82,313.29 591.28,318.29 592.7,318.4 C594.12,318.51 597.45,314.49 599.5,314 C601.55,313.51 611.05,313.3 613.2,313.5 C615.35,313.7 619.44,315.9 621,316 C622.56,316.1 626.65,314.85 628.8,314.5 C630.95,314.15 640.35,312.6 642.5,312.5 C644.65,312.4 647.57,313.6 650.3,313.5 C653.03,313.4 667.06,312.09 669.8,311.5 C672.54,310.91 675.55,308.12 677.7,307.6 C679.85,307.08 688.57,306.15 691.3,306.25 C694.03,306.35 702.85,308.08 705,308.6 C707.15,309.12 710.65,311.74 712.8,311.5 C714.95,311.26 724.15,306.5 726.5,306.25 C728.85,306 734.1,308.48 736.25,309 C738.4,309.52 746.14,310.86 748,311.5 C749.86,312.14 751.6,315.01 754.8,315.4 C758,315.79 772.12,315.5 780,315.4 C787.88,315.3 828.24,314.5 833.6,314.4" fill="none" stroke="#7E57C2" stroke-width="1.35" stroke-linejoin="round"/>
<rect x="32" y="0" width="102" height="120.5" fill="#fff" fill-opacity="0.55"/><g font-family="Liberation Sans, sans-serif"><text x="0" y="26.7" transform="matrix(0.9539,0,0,1,65.78,0)" font-size="19.6" font-weight="400" fill="#131722">Cardano / U. S. Dollar · 4h · Kraken</text><text x="0" y="51.8" transform="matrix(0.9164,0,0,1,37.95,0)" font-size="17.3" font-weight="400" fill="#F23645">0.349711</text><text x="0" y="51.8" transform="matrix(0.8995,0,0,1,111.28,0)" font-size="17.3" font-weight="400" fill="#F23645">−0.001279 (−0.36%)</text><text x="0" y="78" transform="matrix(0.8507,0,0,1,38.2,0)" font-size="17.5" font-weight="400" fill="#131722">Vol · ADA</text><text x="0" y="108.6" transform="matrix(0.9232,0,0,1,38.48,0)" font-size="17.3" font-weight="400" fill="#131722">BB 20 SMA close 2</text><text x="0" y="91.3" transform="matrix(0.9726,0,0,1,922.8,0)" font-size="14.8" font-weight="400" fill="#131722">0.450000</text><text x="0" y="166.6" transform="matrix(0.9726,0,0,1,922.8,0)" font-size="14.8" font-weight="400" fill="#131722">0.400000</text></g>
<g font-family="Liberation Sans, sans-serif"><path d="M912,167.2 H987.5 Q990,167.2 990,169.7 V185.1 Q990,187.6 987.5,187.6 H912 Z" fill="#2962FF"/><text x="0" y="183" transform="matrix(0.979,0,0,1,923.2,0)" font-size="14.8" font-weight="400" fill="#fff">0.378600</text><path d="M912,187.6 H987.5 Q990,187.6 990,190.1 V205.5 Q990,208 987.5,208 H912 Z" fill="#2962FF"/><text x="0" y="203.3" transform="matrix(0.9907,0,0,1,923.2,0)" font-size="14.8" font-weight="400" fill="#fff">0.370842</text><path d="M912,208.5 H987.5 Q990,208.5 990,211.0 V226.5 Q990,229 987.5,229 H912 Z" fill="#FF6D00"/><text x="0" y="224.4" transform="matrix(0.9835,0,0,1,923.2,0)" font-size="14.8" font-weight="400" fill="#fff">0.359057</text><path d="M912,229 H987.5 Q990,229 990,231.5 V264.2 Q990,266.7 987.5,266.7 H912 Z" fill="#F23645"/><text x="0" y="244.7" transform="matrix(0.9808,0,0,1,923.2,0)" font-size="14.8" font-weight="400" fill="#fff">0.349711</text><text x="0" y="261.8" transform="matrix(0.9825,0,0,1,923.3,0)" font-size="14.8" font-weight="400" fill="#fff" fill-opacity="0.75">03:21:42</text><path d="M912,268 H987.5 Q990,268 990,270.5 V285.8 Q990,288.3 987.5,288.3 H912 Z" fill="#2962FF"/><text x="0" y="283.6" transform="matrix(0.9806,0,0,1,923.2,0)" font-size="14.8" font-weight="400" fill="#fff">0.339514</text><svg x="0" y="0" width="1024" height="300.5"><path d="M912,288.8 H975.0 Q977.5,288.8 977.5,291.3 V306.3 Q977.5,308.8 975.0,308.8 H912 Z" fill="#882023"/><text x="0" y="304.2" transform="matrix(0.9426,0,0,1,923.6,0)" font-size="14.8" font-weight="400" fill="#fff">84.93 K</text></svg><path d="M912,303 H963.5 Q966,303 966,305.5 V320.5 Q966,323 963.5,323 H912 Z" fill="#7E57C2"/><text x="0" y="318.5" transform="matrix(0.9762,0,0,1,923.56,0)" font-size="14.8" font-weight="400" fill="#fff">40.94</text></g>
<g font-family="Liberation Sans, sans-serif"><text x="0" y="345.8" transform="matrix(0.943,0,0,1,49.05,0)" font-size="14.8" fill="#131722" text-anchor="middle">13</text><text x="0" y="345.8" transform="matrix(0.943,0,0,1,134.1,0)" font-size="14.8" fill="#131722" text-anchor="middle">15</text><text x="0" y="345.8" transform="matrix(0.943,0,0,1,218.8,0)" font-size="14.8" fill="#131722" text-anchor="middle">17</text><text x="0" y="345.8" transform="matrix(0.943,0,0,1,303.8,0)" font-size="14.8" fill="#131722" text-anchor="middle">19</text><text x="0" y="345.8" transform="matrix(0.943,0,0,1,387.6,0)" font-size="14.8" fill="#131722" text-anchor="middle">21</text><text x="0" y="345.8" transform="matrix(0.943,0,0,1,472.7,0)" font-size="14.8" fill="#131722" text-anchor="middle">23</text><text x="0" y="345.8" transform="matrix(0.943,0,0,1,557.4,0)" font-size="14.8" fill="#131722" text-anchor="middle">25</text><text x="0" y="345.8" transform="matrix(0.943,0,0,1,642.1,0)" font-size="14.8" fill="#131722" text-anchor="middle">27</text><text x="0" y="345.8" transform="matrix(0.943,0,0,1,726.8,0)" font-size="14.8" fill="#131722" text-anchor="middle">29</text><text x="0" y="345.8" transform="matrix(0.9848,0,0,1,837.5,0)" font-size="14.8" font-weight="700" fill="#131722">2026</text></g>
<circle cx="49.1" cy="20.8" r="10.9" fill="#2F6CD6"/><circle cx="51.45" cy="22.20" r="0.9" fill="#fff"/><circle cx="49.20" cy="23.50" r="0.9" fill="#fff"/><circle cx="46.95" cy="22.20" r="0.9" fill="#fff"/><circle cx="46.95" cy="19.60" r="0.9" fill="#fff"/><circle cx="49.20" cy="18.30" r="0.9" fill="#fff"/><circle cx="51.45" cy="19.60" r="0.9" fill="#fff"/><circle cx="54.20" cy="20.90" r="0.55" fill="#fff" fill-opacity="0.7"/><circle cx="53.53" cy="23.40" r="0.55" fill="#fff" fill-opacity="0.7"/><circle cx="51.70" cy="25.23" r="0.55" fill="#fff" fill-opacity="0.7"/><circle cx="49.20" cy="25.90" r="0.55" fill="#fff" fill-opacity="0.7"/><circle cx="46.70" cy="25.23" r="0.55" fill="#fff" fill-opacity="0.7"/><circle cx="44.87" cy="23.40" r="0.55" fill="#fff" fill-opacity="0.7"/><circle cx="44.20" cy="20.90" r="0.55" fill="#fff" fill-opacity="0.7"/><circle cx="44.87" cy="18.40" r="0.55" fill="#fff" fill-opacity="0.7"/><circle cx="46.70" cy="16.57" r="0.55" fill="#fff" fill-opacity="0.7"/><circle cx="49.20" cy="15.90" r="0.55" fill="#fff" fill-opacity="0.7"/><circle cx="51.70" cy="16.57" r="0.55" fill="#fff" fill-opacity="0.7"/><circle cx="53.53" cy="18.40" r="0.55" fill="#fff" fill-opacity="0.7"/><circle cx="55.70" cy="20.90" r="0.45" fill="#fff" fill-opacity="0.5"/><circle cx="52.45" cy="26.53" r="0.45" fill="#fff" fill-opacity="0.5"/><circle cx="45.95" cy="26.53" r="0.45" fill="#fff" fill-opacity="0.5"/><circle cx="42.70" cy="20.90" r="0.45" fill="#fff" fill-opacity="0.5"/><circle cx="45.95" cy="15.27" r="0.45" fill="#fff" fill-opacity="0.5"/><circle cx="52.45" cy="15.27" r="0.45" fill="#fff" fill-opacity="0.5"/><circle cx="385.6" cy="20.8" r="13.5" fill="#DDF1EE"/><circle cx="386" cy="21" r="6.3" fill="#0E9A7F"/><rect x="258.5" y="49" width="167" height="46.5" rx="6" fill="#000" opacity="0.10" transform="translate(0,2)" filter="url(#blur)"/><rect x="257.8" y="48.3" width="168.1" height="47" rx="6" fill="#fff"/><circle cx="268.6" cy="65.6" r="1.2" fill="#B2B5BE"/><circle cx="268.6" cy="71.9" r="1.2" fill="#B2B5BE"/><circle cx="268.6" cy="78" r="1.2" fill="#B2B5BE"/><circle cx="276" cy="65.6" r="1.2" fill="#B2B5BE"/><circle cx="276" cy="71.9" r="1.2" fill="#B2B5BE"/><circle cx="276" cy="78" r="1.2" fill="#B2B5BE"/><g stroke="#131722" stroke-width="1.3" fill="#fff"><line x1="298" y1="72.8" x2="308.3" y2="72.8"/><line x1="313.5" y1="72.8" x2="323.8" y2="72.8"/><circle cx="310.9" cy="72.8" r="2.6"/><line x1="348.3" y1="80.9" x2="365.5" y2="63.7"/><circle cx="346.5" cy="82.7" r="2.6"/><circle cx="367.3" cy="61.9" r="2.6"/><line x1="389.5" y1="60" x2="416.6" y2="60"/><line x1="389.5" y1="67.8" x2="413.4" y2="67.8"/><circle cx="416" cy="67.8" r="2.6"/><line x1="389.5" y1="74.9" x2="416.6" y2="74.9"/><line x1="392.6" y1="82.3" x2="416.6" y2="82.3"/><circle cx="390" cy="82.3" r="2.6"/></g><circle cx="198.4" cy="104.2" r="13.3" fill="#EDE5FD"/><g stroke="#6A2CF0" stroke-width="1.8" fill="none" stroke-linecap="round"><path d="M191.6,102.2 A7,7 0 0 1 205.2,102.6"/><path d="M205.2,106.3 A7,7 0 0 1 191.6,106"/></g><path d="M202.8,101.2 L207.8,101.2 L205.3,104.8 Z" fill="#6A2CF0"/><path d="M189,107.2 L194,107.2 L191.5,103.6 Z" fill="#6A2CF0"/><rect x="38.2" y="124.9" width="36.8" height="28.6" rx="3.5" fill="#fff" fill-opacity="0.75" stroke="#E6E8EC" stroke-width="1"/><polyline points="50,142.1 56.9,135.6 63.7,142.1" fill="none" stroke="#131722" stroke-width="2"/><rect x="916.8" y="5.9" width="74" height="28.8" rx="4" fill="#fff" stroke="#EEF0F3" stroke-width="1"/><polyline points="980.5,18.8 983.4,21.5 986.3,18.8" fill="none" stroke="#131722" stroke-width="1.8"/><g stroke="#131722" stroke-width="1.3" fill="none"><polygon points="945.6,340.5 949.7,333.6 959.1,333.6 963,340.5 959.1,347.5 949.7,347.5"/><circle cx="954.4" cy="340.5" r="2.4"/></g><path d="M821.5,281.4 A12.5,12.5 0 1 1 824,292.4" fill="none" stroke="#9C27B0" stroke-width="1.9"/><path d="M820,282.4 Q821.2,287.4 826.2,288.6 Q821.2,289.8 820,294.6 Q818.8,289.8 813.8,288.6 Q818.8,287.4 820,282.4 Z" fill="#6D5CF0" stroke="#6D5CF0" stroke-width="0.8" stroke-linejoin="round"/><path d="M837.2,278.2 L828.4,285 L834.3,284.6 L829.6,290.3 L838.1,283.6 L832.4,283.9 Z" fill="#9C27B0" stroke="#9C27B0" stroke-width="1.1" stroke-linejoin="round"/><rect x="46.3" y="300" width="28" height="8.7" fill="#fff"/><rect x="49.5" y="301.3" width="7.3" height="4.7" rx="0.8" fill="#000"/><polygon points="64.6,301.3 73,301.3 71.2,306 63.1,306" fill="#000"/><g stroke="#131722" stroke-width="1.7" fill="none" stroke-linecap="round" stroke-linejoin="round"><g transform="translate(311.6,393.3) rotate(-42)"><path d="M0,0 L5,-3.4 L21.5,-3.4 A3.4,3.4 0 0 1 21.5,3.4 L5,3.4 Z"/><line x1="18.5" y1="-3.4" x2="18.5" y2="3.4"/><path d="M0,0 L3,-2 L3,2 Z" fill="#131722"/></g><path d="M308.2,396.6 C306.5,401 309.5,402 314,400 C318.5,398 325,395.5 329.5,400.6"/><polyline points="366.6,385 373,379.6 378.5,384.2 387.4,376.4"/><path d="M367.2,397.8 V393.7 H372.6 V389.9 H378.3 V393.7 H383.4 V386.1 H388.2 V397.8 Z M372.6,393.7 V397.8 M378.3,393.7 V397.8 M383.4,393.7 V397.8"/><rect x="427.1" y="378.6" width="7.6" height="7.6" rx="2"/><rect x="438.8" y="378.6" width="7.6" height="7.6" rx="2"/><rect x="427.1" y="390" width="7.6" height="7.6" rx="2"/><rect x="438.8" y="390" width="7.6" height="7.6" rx="2"/><circle cx="564.4" cy="387.9" r="11.3"/><path d="M558,387.9 H570.8 M564.4,381.5 V394.3"/><circle cx="622.9" cy="389.8" r="10.4"/><path d="M610.3,381.6 L615.3,377.4 M630.7,377.4 L635.7,381.6 M620.6,382.3 V390.2 H625"/><rect x="674.8" y="380.3" width="4.6" height="15.2"/><path d="M677.1,375.8 V380.3 M677.1,395.5 V400"/><rect x="684.7" y="383.5" width="5.4" height="8"/><path d="M687.4,379.6 V383.5 M687.4,391.5 V395.7"/><path d="M739.7,380.9 L731.8,388.1 L739.7,395.2 Z M749,380.5 L741.8,388.1 L749,395.6 Z" stroke-linejoin="miter"/><path d="M786.6,385 L799.4,377.6 L812.2,385 L799.4,392.4 Z" stroke-linejoin="miter"/><polyline points="786.8,391.6 799.4,398.9 812.2,391.6" stroke-linejoin="miter" stroke-linecap="butt"/><circle cx="849.3" cy="388.2" r="2.6" stroke-width="1.6"/><circle cx="858" cy="388.2" r="2.6" stroke-width="1.6"/><circle cx="866.7" cy="388.2" r="2.6" stroke-width="1.6"/><path d="M925,382.2 L920.6,386.7 L925,391.1 M921,386.7 C928,385.2 934.5,386.5 934.8,393.8" stroke-width="1.9"/></g><g fill="none" stroke-linecap="round" stroke-linejoin="round"><path d="M483,392.6 L489.8,385.8 L495.8,391.8 M494.6,381.9 L500.6,387.9 L507.5,381.8" stroke="#131722" stroke-width="4.8"/><path d="M483,392.6 L489.8,385.8 L495.8,391.8 M494.6,381.9 L500.6,387.9 L507.5,381.8" stroke="#fff" stroke-width="1.8"/></g><path d="M989.5,382.2 L993.9,386.7 L989.5,391.1 M993.5,386.7 C986.5,385.2 980,386.5 979.7,393.8" stroke="#E4E5E8" stroke-width="1.8" fill="none" stroke-linecap="round" stroke-linejoin="round"/><line x1="892.7" y1="372.6" x2="892.7" y2="401.5" stroke="#EBEDF0" stroke-width="1"/><g stroke="#131722" stroke-width="1.7" fill="none" stroke-linecap="round" stroke-linejoin="round" stroke-width="1.4" stroke="#40434D"><path d="M59.9,429.9 H73.5 V446.7 L66.7,443.2 L59.9,446.7 Z" stroke-linejoin="miter"/><path d="M63.2,433.8 H70.2 M63.2,437.4 H70.2 M63.2,441.1 H70.2"/></g><rect x="275" y="428.4" width="20" height="20" rx="5" fill="#131722"/><polyline points="279.2,440 282.1,437 285.5,440 290.5,436.8" fill="none" stroke="#fff" stroke-width="1.5" stroke-linecap="round" stroke-linejoin="round"/><circle cx="482.5" cy="438.4" r="9.2" stroke="#131722" stroke-width="1.8" fill="none"/><path d="M477.4,443.3 L480.3,436.4 L488,433.4 L485,440.4 Z" fill="#131722" stroke="#131722" stroke-width="1" stroke-linejoin="round"/><path d="M478.6,442.1 L481,437.6 L483.4,440 Z" fill="#fff"/><g stroke="#131722" stroke-width="1.7" fill="none" stroke-linecap="round" stroke-linejoin="round" stroke-width="1.5"><circle cx="669.3" cy="435.3" r="2.5"/><circle cx="677.8" cy="434.3" r="2.3"/><path d="M664.6,444.6 C664,440.5 667,439.6 669.3,439.6 C672,439.6 675,440.5 674.3,444.6 Z"/><path d="M673,439.2 C674.5,438.7 676,438.6 677.8,438.6 C680,438.6 682.4,439.7 681.8,444.6 H674.3"/></g><path d="M890.3,432.7 H907.5 M890.3,438.4 H907.5 M890.3,443.9 H907.5" stroke="#131722" stroke-width="2"/>
<g font-family="Liberation Sans, sans-serif"><text x="0" y="24.5" transform="matrix(0.8761,0,0,1,920.14,0)" font-size="14.8" font-weight="400" fill="#131722">USD</text><defs><linearGradient id="fadeR" x1="0" x2="1" y1="0" y2="0"><stop offset="0.68" stop-color="#111"/><stop offset="1" stop-color="#A0A2A8"/></linearGradient><linearGradient id="gUp" gradientUnits="userSpaceOnUse" x1="0" x2="0" y1="357" y2="370"><stop offset="0" stop-color="#DCDDE0"/><stop offset="1" stop-color="#96989E"/></linearGradient><linearGradient id="gDn" gradientUnits="userSpaceOnUse" x1="0" x2="0" y1="408" y2="418"><stop offset="0" stop-color="#A3A4A9"/><stop offset="1" stop-color="#D8D9DC"/></linearGradient><clipPath id="pick"><rect x="0" y="358" width="1024" height="58.8"/></clipPath></defs><g clip-path="url(#pick)"><text x="0" y="369.3" transform="matrix(0.8321,0,0,1,42.87,0)" font-size="28" font-weight="700" fill="url(#gUp)" stroke="url(#gUp)" stroke-width="0.6">USDJPY</text><text x="0" y="369.3" transform="matrix(0.7387,0,0,1,174.76,0)" font-size="28" font-weight="700" fill="url(#gUp)" stroke="url(#gUp)" stroke-width="0.6">1h</text><text x="0" y="398.8" transform="matrix(0.8426,0,0,1,42.63,0)" font-size="28" font-weight="700" fill="url(#fadeR)" stroke="url(#fadeR)" stroke-width="0.7">ADAUSD</text><text x="0" y="398.8" transform="matrix(0.875,0,0,1,171.0,0)" font-size="28" font-weight="700" fill="#111" stroke="#111" stroke-width="0.7">4h</text><text x="0" y="428.3" transform="matrix(0.8196,0,0,1,43.78,0)" font-size="28" font-weight="700" fill="url(#gDn)" stroke="url(#gDn)" stroke-width="0.6">DXY</text><text x="0" y="428.3" transform="matrix(0.8529,0,0,1,170.15,0)" font-size="28" font-weight="700" fill="url(#gDn)" stroke="url(#gDn)" stroke-width="0.6">1D</text></g><text x="0" y="444.7" transform="matrix(0.8787,0,0,1,88.2,0)" font-size="17" font-weight="700" fill="#0B0D12" stroke="#0B0D12" stroke-width="0.4">Watchlist</text><text x="0" y="444.7" transform="matrix(0.8768,0,0,1,306.6,0)" font-size="17" font-weight="700" fill="#0B0D12" stroke="#0B0D12" stroke-width="0.4">Chart</text><text x="0" y="444.7" transform="matrix(0.842,0,0,1,504.33,0)" font-size="17" font-weight="700" fill="#0B0D12" stroke="#0B0D12" stroke-width="0.4">Explore</text><text x="0" y="444.7" transform="matrix(0.8589,0,0,1,695.4,0)" font-size="17" font-weight="700" fill="#0B0D12" stroke="#0B0D12" stroke-width="0.4">Community</text><text x="0" y="444.5" transform="matrix(0.8859,0,0,1,920.62,0)" font-size="17" font-weight="700" fill="#0B0D12" stroke="#0B0D12" stroke-width="0.4">Menu</text></g>
<line x1="27" y1="357.5" x2="997" y2="357.5" stroke="#E9EAED" stroke-width="1"/>
<line x1="0" y1="417.3" x2="1024" y2="417.3" stroke="#E9EAED" stroke-width="1"/>
</svg>
</body></html>
